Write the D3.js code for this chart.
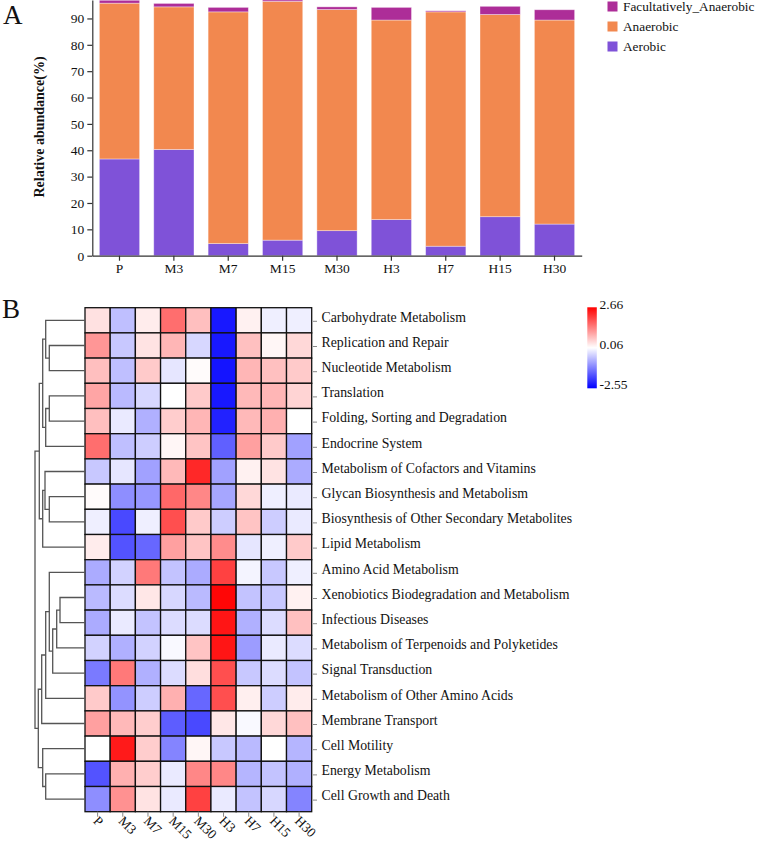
<!DOCTYPE html>
<html><head><meta charset="utf-8">
<script src="https://cdn.jsdelivr.net/npm/d3@7/dist/d3.min.js"></script>
<style>
html,body{margin:0;padding:0;background:#fff;}
text{font-family:"Liberation Serif","Times New Roman",serif;fill:#111;}
</style></head>
<body><svg id="c" width="760" height="846"></svg>
<script>
// ---------- Panel A data ----------
const samples = ["P","M3","M7","M15","M30","H3","H7","H15","H30"];
const aerobic = [36.7, 40.3, 4.6, 5.9, 9.5, 13.7, 3.6, 14.8, 12.0];
const anaerobic = [59.1, 54.1, 87.9, 90.6, 83.9, 75.7, 88.9, 76.7, 77.4];
const facultative = [1.1, 1.3, 1.7, 0.5, 1.0, 4.8, 0.4, 3.1, 3.9];
const seriesNames = ["Aerobic","Anaerobic","Facultatively_Anaerobic"];
const seriesColors = ["#7f52d8","#f2884f","#ad2d98"];
const yTicks = [0,10,20,30,40,50,60,70,80,90];

// ---------- Panel B data ----------
const pathways = ["Carbohydrate Metabolism","Replication and Repair","Nucleotide Metabolism","Translation",
"Folding, Sorting and Degradation","Endocrine System","Metabolism of Cofactors and Vitamins",
"Glycan Biosynthesis and Metabolism","Biosynthesis of Other Secondary Metabolites","Lipid Metabolism",
"Amino Acid Metabolism","Xenobiotics Biodegradation and Metabolism","Infectious Diseases",
"Metabolism of Terpenoids and Polyketides","Signal Transduction","Metabolism of Other Amino Acids",
"Membrane Transport","Cell Motility","Energy Metabolism","Cell Growth and Death"];
const heatValues = [
 [0.37,-0.60,0.25,1.54,0.71,-2.30,0.20,-0.10,-0.10],
 [1.13,-0.50,0.35,0.80,-0.35,-2.30,0.70,0.15,0.46],
 [0.71,-0.60,0.60,-0.20,0.10,-2.35,0.80,0.70,0.60],
 [0.98,-0.65,-0.35,0.06,0.60,-2.30,0.77,0.80,0.50],
 [0.71,-0.15,-0.75,0.57,0.80,-2.20,0.77,0.87,0.06],
 [1.54,-0.60,-0.45,0.15,0.66,-1.57,1.03,0.60,-0.90],
 [-0.50,-0.20,-0.90,0.77,2.25,-0.90,0.20,0.35,-0.80],
 [0.10,-1.10,-1.00,1.60,1.28,-0.85,0.46,-0.10,-0.15],
 [-0.10,-1.80,-0.10,1.85,0.60,-0.45,0.66,-0.45,-0.15],
 [0.25,-1.70,-1.50,1.03,0.66,1.23,-0.20,-0.10,0.60],
 [-0.80,-0.40,1.43,-0.55,-0.80,2.00,-0.05,-0.50,-0.10],
 [-0.65,-0.30,0.30,-0.35,-0.65,2.60,-0.55,-0.50,0.20],
 [-0.80,-0.15,-0.55,-0.30,-0.30,2.45,-0.75,-0.30,0.70],
 [-0.40,-0.75,-0.40,0.00,0.66,2.45,-0.95,-0.15,-0.30],
 [-1.30,1.43,-0.75,-0.30,0.40,1.85,-0.50,-0.30,-0.55],
 [0.60,-1.05,-0.45,0.87,-1.50,1.85,0.22,-0.45,0.25],
 [1.03,0.77,0.57,-1.60,-1.80,0.30,0.00,0.46,0.70],
 [0.06,2.40,0.57,-1.20,0.15,-0.50,-0.65,0.06,-0.70],
 [-1.70,0.87,0.57,-0.15,1.28,1.28,-0.70,-0.55,-0.75],
 [-1.10,1.18,0.35,-0.15,2.00,-0.15,-0.55,-0.35,-1.20]
];
const colorStops = [-2.55, 0.06, 2.66];
const colorRange = ["#0000ff","#ffffff","#ff0000"];
const cbLabels = [2.66, 0.06, -2.55];
// row dendrogram merges: [left, right, height]; negative = leaf index -(i+1), positive = merge id (1-based)
const merges = [
 [-2,-3,35.7],   //1
 [-1, 1,39.3],   //2
 [-4,-5,35.7],   //3
 [ 3,-6,39.3],   //4
 [ 2, 4,42.3],   //5
 [-8,-9,35.7],   //6
 [-7, 6,40.0],   //7
 [ 7,-10,42.3],  //8
 [ 5, 8,45.7],   //9
 [-12,-13,25.0], //10
 [10,-14,28.3],  //11
 [11,-15,32.3],  //12
 [-11,12,35.7],  //13
 [13,-16,39.3],  //14
 [14,-17,43.3],  //15
 [-19,-20,39.3], //16
 [-18,16,42.3],  //17
 [15,17,46.7],   //18
 [9,18,50.0]     //19 root
];

const svg = d3.select("#c");

// ================= Panel A =================
const gA = svg.append("g");
const x = d3.scaleBand().domain(samples).range([92.3, 581.7]).paddingInner(0.26).paddingOuter(0.13);
const y = d3.scaleLinear().domain([0, 97]).range([255.7, 0]);

const stackData = samples.map((s,i)=>({s, Aerobic:aerobic[i], Anaerobic:anaerobic[i], Facultatively_Anaerobic:facultative[i]}));
const stacked = d3.stack().keys(seriesNames)(stackData);
stacked.forEach((layer,k)=>{
  gA.append("g").selectAll("rect").data(layer).join("rect")
    .attr("x", d=>x(d.data.s)).attr("width", x.bandwidth())
    .attr("y", d=>y(d[1])).attr("height", d=>y(d[0])-y(d[1]))
    .attr("fill", seriesColors[k])
    .attr("stroke","rgba(255,255,255,0.45)").attr("stroke-width",0.8);
});

const xAx = gA.append("g").attr("transform","translate(0,255.7)")
  .call(d3.axisBottom(x).tickSize(5).tickSizeOuter(0).tickPadding(3));
const yAx = gA.append("g").attr("transform","translate(92.3,0)")
  .call(d3.axisLeft(y).tickValues(yTicks).tickSize(5).tickSizeOuter(0).tickPadding(3));
[xAx,yAx].forEach(a=>{
  a.attr("font-family",null);
  a.selectAll("path,line").attr("stroke","#333").attr("stroke-width",1.2);
  a.selectAll("text").attr("font-size",13.5).attr("fill","#111");
});
gA.append("text").attr("transform","translate(44,127) rotate(-90)").attr("text-anchor","middle")
  .attr("font-size",14).attr("font-weight","bold").text("Relative abundance(%)");
gA.append("text").attr("x",3).attr("y",24).attr("font-size",27).text("A");

// legend
const legOrder = [2,1,0];
legOrder.forEach((k,j)=>{
  const ly = 6 + j*20;
  gA.append("rect").attr("x",607.5).attr("y",ly-4.5).attr("width",10).attr("height",10).attr("fill",seriesColors[k]);
  gA.append("text").attr("x",623).attr("y",ly+4.5).attr("font-size",13.3).text(seriesNames[k]);
});

// ================= Panel B =================
const gB = svg.append("g");
const hx = d3.scaleBand().domain(samples).range([85, 311.7]);
const hy = d3.scaleBand().domain(pathways).range([307.7, 811.7]);
const color = d3.scaleLinear().domain(colorStops).range(colorRange);

const cells = [];
pathways.forEach((p,r)=>samples.forEach((s,c)=>cells.push({p,s,v:heatValues[r][c]})));
gB.append("g").selectAll("rect").data(cells).join("rect")
  .attr("x",d=>hx(d.s)).attr("y",d=>hy(d.p))
  .attr("width",hx.bandwidth()).attr("height",hy.bandwidth())
  .attr("fill",d=>color(d.v)).attr("stroke","#111").attr("stroke-width",1.3);

// row labels with small ticks
const rowG = gB.append("g").selectAll("g").data(pathways).join("g")
  .attr("transform",d=>`translate(0,${hy(d)+hy.bandwidth()/2})`);
rowG.append("line").attr("x1",313).attr("x2",317).attr("y1",1).attr("y2",1).attr("stroke","#888").attr("stroke-width",1);
rowG.append("text").attr("x",321.5).attr("y",-3.5).attr("dy","0.35em").attr("font-size",13.8).text(d=>d);

// column labels
const colG = gB.append("g").selectAll("g").data(samples).join("g")
  .attr("transform",d=>`translate(${hx(d)+hx.bandwidth()/2},811.7)`);
colG.append("line").attr("y1",0).attr("y2",5).attr("stroke","#888").attr("stroke-width",1);
colG.append("text").attr("transform","translate(-5,10) rotate(45)").attr("font-size",13.5).text(d=>d);

// dendrogram
const dx = d3.scaleLinear().domain([0, 50]).range([85, 35]);
const nodePos = {};
function pos(id){
  if(id<0){ const i=-id-1; return {y: hy(pathways[i])+hy.bandwidth()/2, h:0}; }
  return nodePos[id];
}
const dendroPaths = [];
merges.forEach((m,k)=>{
  const a=pos(m[0]), b=pos(m[1]);
  nodePos[k+1] = {y:(a.y+b.y)/2, h:m[2]};
  dendroPaths.push(`M${dx(a.h)},${a.y}H${dx(m[2])}V${b.y}H${dx(b.h)}`);
});
gB.append("g").selectAll("path").data(dendroPaths).join("path")
  .attr("d",d=>d).attr("fill","none").attr("stroke","#555").attr("stroke-width",1.3);

gB.append("text").attr("x",2).attr("y",318).attr("font-size",27).text("B");

// color bar
const defs = svg.append("defs");
const grad = defs.append("linearGradient").attr("id","cb").attr("x1",0).attr("x2",0).attr("y1",1).attr("y2",0);
const cbScale = d3.scaleLinear().domain([colorStops[0], colorStops[2]]).range([0,1]);
d3.range(0,21).map(i=>colorStops[0]+(colorStops[2]-colorStops[0])*i/20).forEach(v=>{
  grad.append("stop").attr("offset",cbScale(v)).attr("stop-color",color(v));
});
gB.append("rect").attr("x",587.3).attr("y",307.3).attr("width",9.5).attr("height",81).attr("fill","url(#cb)");
const cbY = d3.scaleLinear().domain([colorStops[0], colorStops[2]]).range([384, 304]);
gB.append("g").selectAll("text").data(cbLabels).join("text")
  .attr("x",599.5).attr("y",d=>cbY(d)).attr("dy","0.35em").attr("font-size",13.5).text(d=>d.toFixed(2));
</script></body></html>
